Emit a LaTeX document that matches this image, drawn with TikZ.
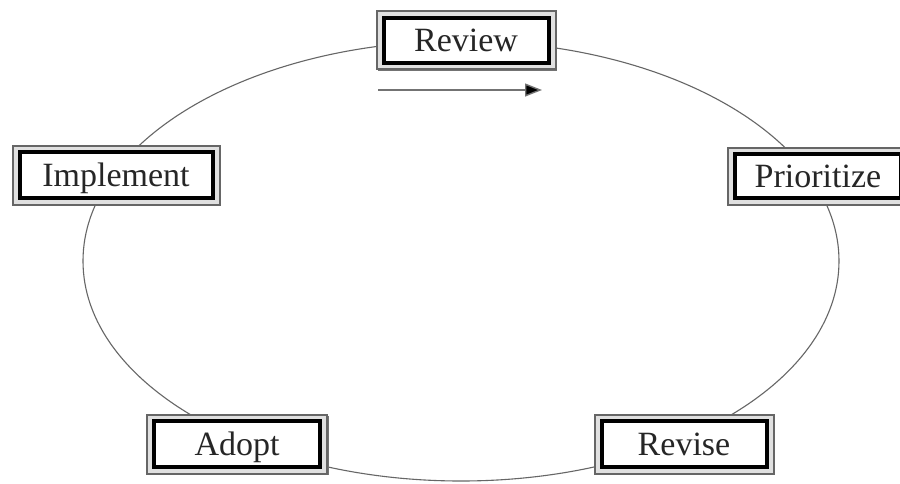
\documentclass[tikz,border=0pt]{standalone}
\usepackage{fontspec}
\setmainfont{Liberation Serif}
\usetikzlibrary{arrows.meta}
\begin{document}
\begin{tikzpicture}[x=1pt,y=-1pt,
  outerframe/.style={draw=black!60, line width=2pt, fill=black!12, rectangle, inner sep=0pt},
  shadowframe/.style={fill=black!55, draw=none, rectangle, inner sep=0pt},
  stagebox/.style={draw=black, line width=4pt, fill=white, rectangle, inner sep=0pt,
     text height=23pt, text depth=1pt,
     font=\fontsize{34}{40}\selectfont, text=black!85},
  cycleline/.style={draw=black!60, line width=1.1pt},
  flowarrow/.style={draw=black!55, line width=1.4pt, -{Triangle[length=17pt,width=13pt,fill=black]}}]
\useasboundingbox (0,0) rectangle (900,483);
\clip (0,0) rectangle (900,483);
\fill[white] (0,0) rectangle (900,483);
% cycle
\draw[cycleline] (461,261) ellipse [x radius=378, y radius=220];
% direction arrow
\coordinate (arrS) at (378,90);
\coordinate (arrE) at (542,90);
\draw[flowarrow] (arrS) -- (arrE);
% frames (shadow + outer)
\foreach \cx/\cy/\w/\h/\nm in {466/40/179/58/rev, 116/175/207/59/imp, 818/176/180/57/pri, 237/444/180/59/ado, 684/444/179/59/rvs}{
  \node[shadowframe, minimum width=\w pt, minimum height=\h pt] (\nm-s) at (\cx+1.5,\cy+1.5) {};
  \node[outerframe, minimum width=\w pt, minimum height=\h pt] (\nm-o) at (\cx,\cy) {};
}
% stage boxes
\node[stagebox, minimum width=165pt, minimum height=45pt] (rev) at (466,40) {Review};
\node[stagebox, minimum width=193pt, minimum height=46pt] (imp) at (116,175) {Implement};
\node[stagebox, minimum width=166pt, minimum height=44pt] (pri) at (818,176) {Prioritize};
\node[stagebox, minimum width=166pt, minimum height=46pt] (ado) at (237,444) {Adopt};
\node[stagebox, minimum width=165pt, minimum height=46pt] (rvs) at (684,444) {Revise};
\end{tikzpicture}
\end{document}
